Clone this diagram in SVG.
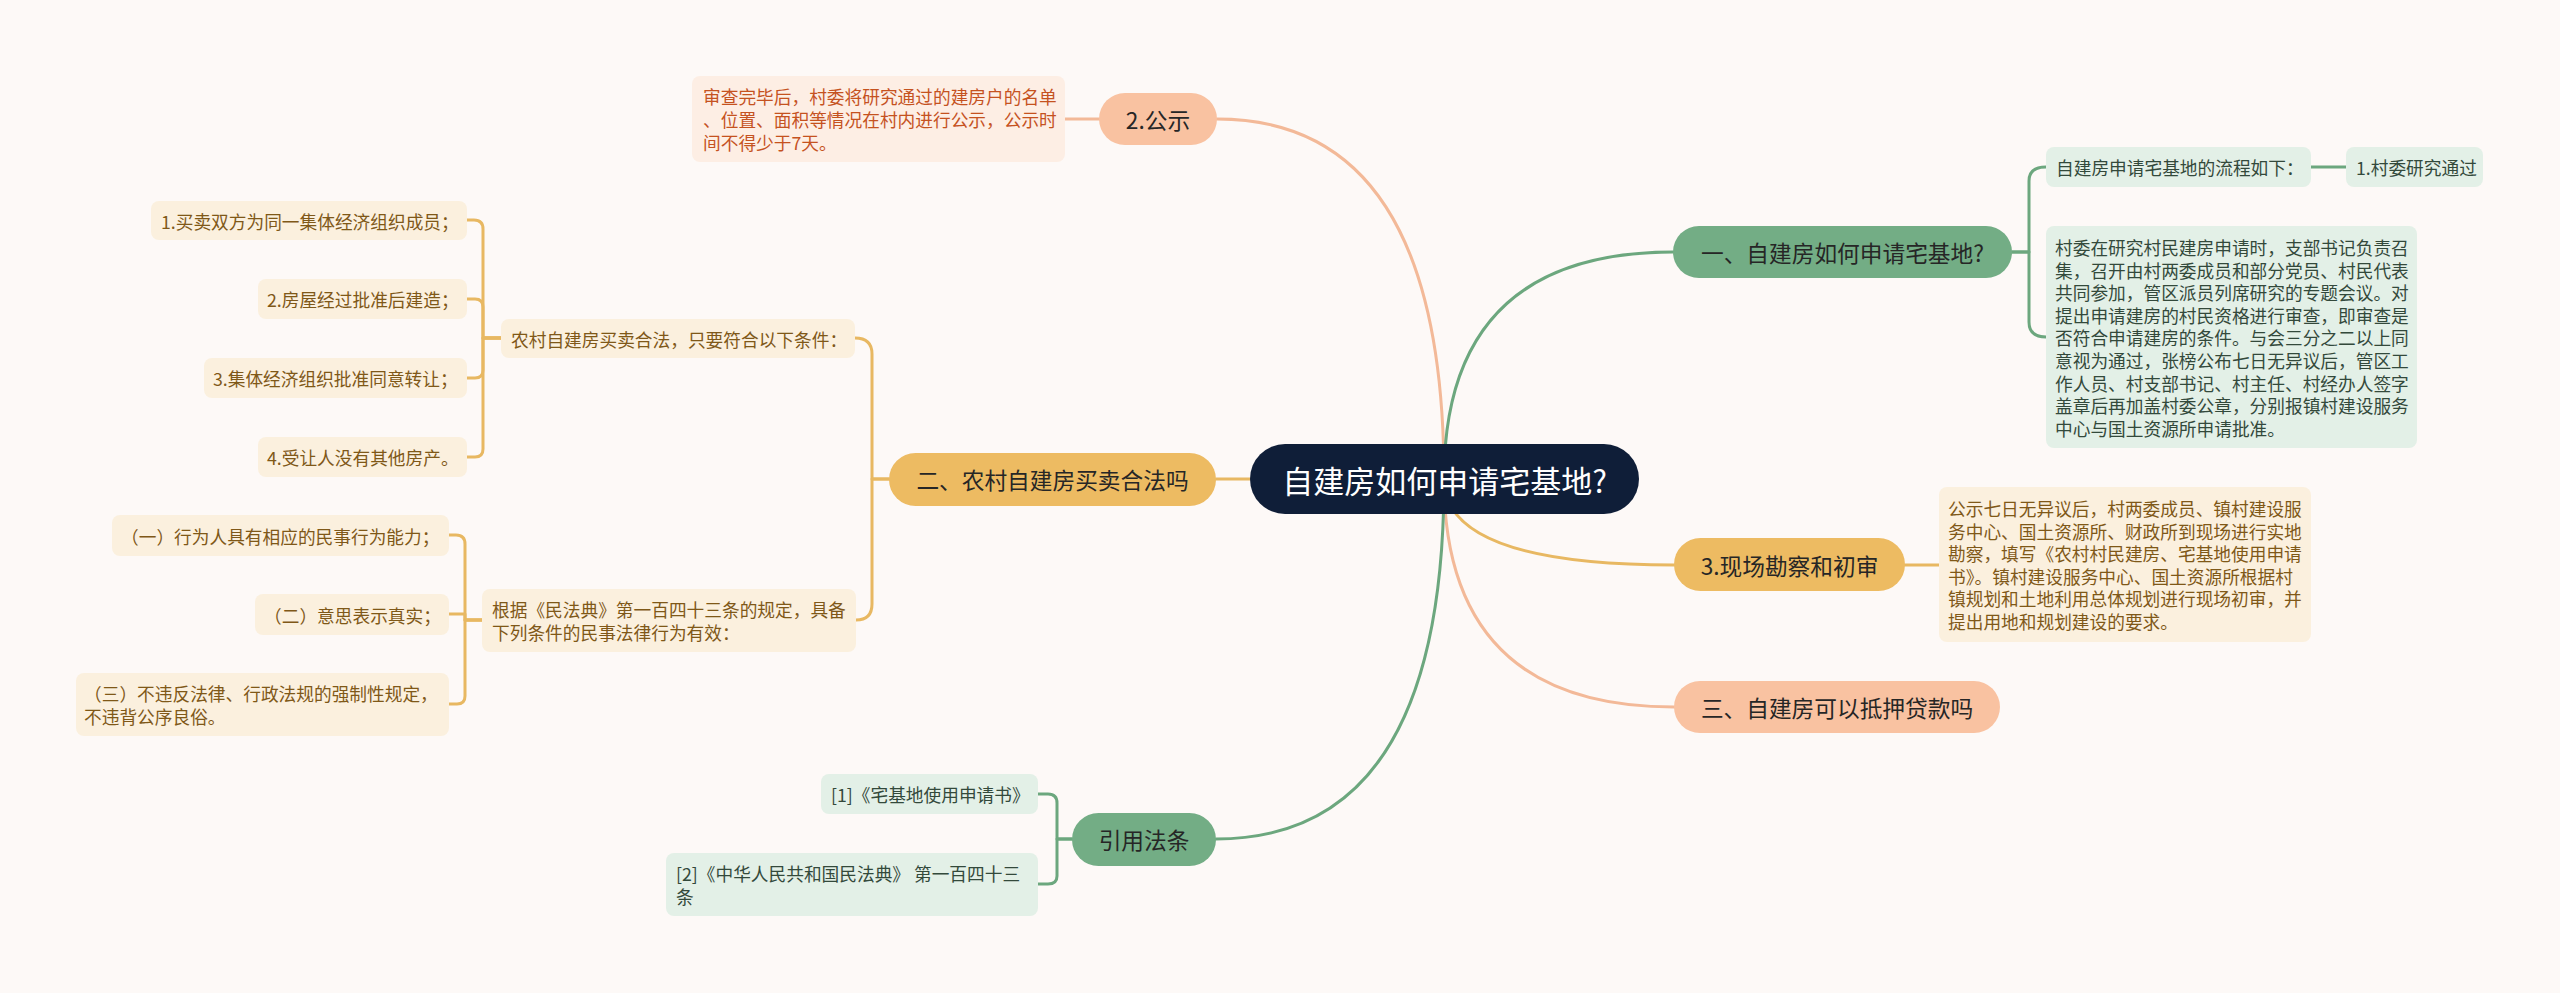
<svg xmlns="http://www.w3.org/2000/svg" width="2560" height="993" viewBox="0 0 2560 993">
<style>
text{font-family:"Noto Sans CJK SC","Noto Sans",sans-serif;dominant-baseline:central}
.c{fill:none;stroke-width:3;stroke-linecap:round;stroke-linejoin:round}
.g{stroke:#6ca77e}.o{stroke:#e8b862}.p{stroke:#f3b998}
.pill{font-size:22.7px;fill:#262626;text-anchor:middle}
.t{font-size:17.7px}
.gb{fill:#e3f0e7}.gt{fill:#33493b}
.ob{fill:#fbf0de}.ot{fill:#7f5818}
.pb{fill:#fdeee4}.pt{fill:#c5521f}
</style>
<rect width="2560" height="993" fill="#fdf9f7"/>
<g id="connectors">
<path class="c p" d="M1444 479 Q1444 119 1217 119"/>
<path class="c g" d="M1444 479 Q1444 252 1673 252"/>
<path class="c o" d="M1444 479 Q1444 565 1674 565"/>
<path class="c p" d="M1444 479 Q1444 707 1674 707"/>
<path class="c o" d="M1444 479 H1216"/>
<path class="c g" d="M1444 479 Q1444 839 1216 839"/>
<path class="c p" d="M1099 119 H1065"/>
<path class="c g" d="M2012 252 H2029 V181 Q2029 167 2046 167"/>
<path class="c g" d="M2012 252 H2029 V322 Q2029 337 2046 337"/>
<path class="c g" d="M2311 167 H2346"/>
<path class="c o" d="M1905 565 H1939"/>
<path class="c o" d="M889 479 H872 V354 Q872 338 855 338"/>
<path class="c o" d="M889 479 H872 V604 Q872 620 856 620"/>
<path class="c o" d="M501 338 H483 V229 Q483 220 474 220 H467"/>
<path class="c o" d="M501 338 H483 V307 Q483 299 475 299 H467"/>
<path class="c o" d="M501 338 H483 V370 Q483 378 475 378 H467"/>
<path class="c o" d="M501 338 H483 V449 Q483 457 475 457 H467"/>
<path class="c o" d="M482 620 H465 V544 Q465 535 456 535 H449"/>
<path class="c o" d="M482 620 H465 V614 H449"/>
<path class="c o" d="M482 620 H465 V696 Q465 704 457 704 H449"/>
<path class="c g" d="M1072 839 H1057 V803 Q1057 794 1048 794 H1038"/>
<path class="c g" d="M1072 839 H1057 V876 Q1057 884 1048 884 H1038"/>
</g>
<g id="center"><rect x="1250" y="444" width="389" height="70" rx="35" fill="#0f1e38"/><text x="1444.5" y="479" font-size="31" fill="#ffffff" text-anchor="middle">自建房如何申请宅基地?</text></g>
<g id="n-gongshi"><rect x="1099" y="93" width="118" height="52" rx="26" fill="#f9c2a1"/><text class="pill" x="1158" y="119">2.公示</text></g>
<g id="n-gongshi-text"><rect class="pb" x="692" y="76" width="373" height="86" rx="8"/><text class="t pt" x="703"><tspan x="703" y="96.4">审查完毕后，村委将研究通过的建房户的名单</tspan><tspan x="703" y="119">、位置、面积等情况在村内进行公示，公示时</tspan><tspan x="703" y="141.6">间不得少于7天。</tspan></text></g>
<g id="n-yi"><rect x="1673" y="226" width="339" height="52" rx="26" fill="#73ad85"/><text class="pill" x="1842.5" y="252">一、自建房如何申请宅基地?</text></g>
<g id="n-liucheng"><rect class="gb" x="2046" y="147" width="265" height="40" rx="8"/><text class="t gt" x="2056" y="167">自建房申请宅基地的流程如下：</text></g>
<g id="n-cunwei"><rect class="gb" x="2346" y="147" width="137" height="40" rx="8"/><text class="t gt" x="2356" y="167">1.村委研究通过</text></g>
<g id="n-yi-text"><rect class="gb" x="2046" y="226" width="371" height="222" rx="8"/><text class="t gt"><tspan x="2055" y="247">村委在研究村民建房申请时，支部书记负责召</tspan><tspan x="2055" y="269.6">集，召开由村两委成员和部分党员、村民代表</tspan><tspan x="2055" y="292.2">共同参加，管区派员列席研究的专题会议。对</tspan><tspan x="2055" y="314.8">提出申请建房的村民资格进行审查，即审查是</tspan><tspan x="2055" y="337.4">否符合申请建房的条件。与会三分之二以上同</tspan><tspan x="2055" y="360">意视为通过，张榜公布七日无异议后，管区工</tspan><tspan x="2055" y="382.6">作人员、村支部书记、村主任、村经办人签字</tspan><tspan x="2055" y="405.2">盖章后再加盖村委公章，分别报镇村建设服务</tspan><tspan x="2055" y="427.8">中心与国土资源所申请批准。</tspan></text></g>
<g id="n-xianchang"><rect x="1674" y="538" width="231" height="53" rx="26.5" fill="#edbb62"/><text class="pill" x="1789.5" y="565">3.现场勘察和初审</text></g>
<g id="n-xianchang-text"><rect class="ob" x="1939" y="487" width="372" height="155" rx="8"/><text class="t ot"><tspan x="1948" y="508">公示七日无异议后，村两委成员、镇村建设服</tspan><tspan x="1948" y="530.6">务中心、国土资源所、财政所到现场进行实地</tspan><tspan x="1948" y="553.2">勘察，填写《农村村民建房、宅基地使用申请</tspan><tspan x="1948" y="575.8">书》。镇村建设服务中心、国土资源所根据村</tspan><tspan x="1948" y="598.4">镇规划和土地利用总体规划进行现场初审，并</tspan><tspan x="1948" y="621">提出用地和规划建设的要求。</tspan></text></g>
<g id="n-san"><rect x="1674" y="681" width="326" height="52" rx="26" fill="#f9c2a1"/><text class="pill" x="1837" y="707">三、自建房可以抵押贷款吗</text></g>
<g id="n-er"><rect x="889" y="453" width="327" height="53" rx="26.5" fill="#edbb62"/><text class="pill" x="1052.5" y="479.5">二、农村自建房买卖合法吗</text></g>
<g id="n-nongcun"><rect class="ob" x="501" y="319" width="354" height="39" rx="8"/><text class="t ot" x="511" y="338.5">农村自建房买卖合法，只要符合以下条件：</text></g>
<g id="n-c1"><rect class="ob" x="151" y="201" width="316" height="39" rx="8"/><text class="t ot" x="161" y="220.5">1.买卖双方为同一集体经济组织成员；</text></g>
<g id="n-c2"><rect class="ob" x="258" y="279" width="209" height="40" rx="8"/><text class="t ot" x="267" y="299">2.房屋经过批准后建造；</text></g>
<g id="n-c3"><rect class="ob" x="204" y="358" width="263" height="40" rx="8"/><text class="t ot" x="213" y="378">3.集体经济组织批准同意转让；</text></g>
<g id="n-c4"><rect class="ob" x="258" y="437" width="209" height="40" rx="8"/><text class="t ot" x="267" y="457">4.受让人没有其他房产。</text></g>
<g id="n-genju"><rect class="ob" x="482" y="589" width="374" height="63" rx="8"/><text class="t ot"><tspan x="492" y="609.2">根据《民法典》第一百四十三条的规定，具备</tspan><tspan x="492" y="631.8">下列条件的民事法律行为有效：</tspan></text></g>
<g id="n-d1"><rect class="ob" x="112" y="515" width="337" height="41" rx="8"/><text class="t ot" x="121" y="535.5">（一）行为人具有相应的民事行为能力；</text></g>
<g id="n-d2"><rect class="ob" x="255" y="594" width="194" height="41" rx="8"/><text class="t ot" x="264" y="614.5">（二）意思表示真实；</text></g>
<g id="n-d3"><rect class="ob" x="76" y="673" width="373" height="63" rx="8"/><text class="t ot"><tspan x="84" y="693.2">（三）不违反法律、行政法规的强制性规定，</tspan><tspan x="84" y="715.8">不违背公序良俗。</tspan></text></g>
<g id="n-yinyong"><rect x="1072" y="813" width="144" height="53" rx="26.5" fill="#73ad85"/><text class="pill" x="1144" y="839.5">引用法条</text></g>
<g id="n-ref1"><rect class="gb" x="821" y="774" width="217" height="40" rx="8"/><text class="t gt" x="831" y="794">[1]《宅基地使用申请书》</text></g>
<g id="n-ref2"><rect class="gb" x="666" y="853" width="372" height="63" rx="8"/><text class="t gt"><tspan x="676" y="873.2">[2]《中华人民共和国民法典》 第一百四十三</tspan><tspan x="676" y="895.8">条</tspan></text></g>
</svg>
